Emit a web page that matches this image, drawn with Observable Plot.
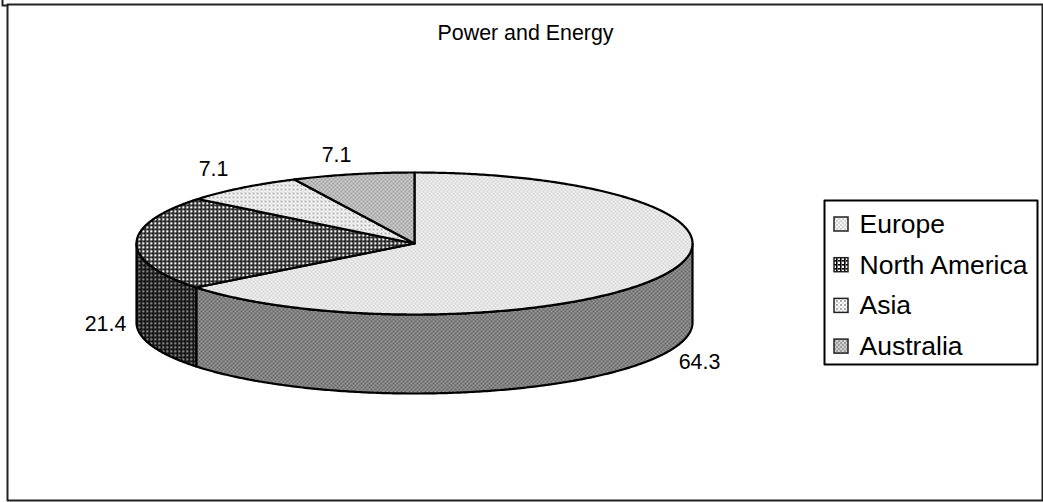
<!DOCTYPE html>
<html>
<head>
<meta charset="utf-8">
<style>html,body{margin:0;padding:0;background:#fff}svg{display:block}</style>
<script src="https://cdn.jsdelivr.net/npm/d3@7"></script>
<script src="https://cdn.jsdelivr.net/npm/@observablehq/plot@0.6"></script>
</head>
<body>
<script>
const categories = ["Europe", "North America", "Asia", "Australia"];
const values = [64.3, 21.4, 7.1, 7.1];
const valueLabels = ["64.3", "21.4", "7.1", "7.1"];
const chartTitle = "Power and Energy";

const W = 1043, H = 502;
const cx = 414, cy = 243, rx = 278, ry = 71, depth = 79;
const font = "Arial, 'Liberation Sans', sans-serif";

const total = d3.sum(values);
let acc = 0;
const slices = categories.map((name, i) => {
  const a0 = acc / total * 2 * Math.PI;
  acc += values[i];
  return {name, a0, a1: acc / total * 2 * Math.PI};
});
const rim = (a, dy = 0) => ({px: cx + rx * Math.sin(a), py: cy - ry * Math.cos(a) + dy});
const arc = (a0, a1, dy = 0) => {
  const n = Math.max(2, Math.ceil(Math.abs(a1 - a0) / 0.01));
  return d3.range(n + 1).map(k => rim(a0 + (a1 - a0) * k / n, dy));
};
const topFace = s => [{px: cx, py: cy}, ...arc(s.a0, s.a1), {px: cx, py: cy}];
const wall = (a0, a1) => {
  const pts = [...arc(a0, a1), ...arc(a1, a0, depth)];
  return [...pts, pts[0]];
};
const frontEnd = Math.PI / 2, backEnd = 3 * Math.PI / 2;
const wallEurope = wall(frontEnd, slices[0].a1);
const wallNA = wall(slices[0].a1, backEnd);

const topFills = ["url(#pEurope)", "url(#pNA)", "url(#pAsia)", "url(#pAus)"];
const shape = (pts, fill) => Plot.line(pts, {
  x: "px", y: "py", fill, stroke: "#000", strokeWidth: 2.2, curve: "linear", strokeLinejoin: "round"
});

// legend layout
const legendX = 824, legendRight = 1037, legendTop = 200, legendBottom = 364;
const legendRows = categories.map((name, i) => ({name, i, ly: 224 + i * 40.7}));

// data labels
const labelPos = [{lx: 699, ly: 362}, {lx: 105, ly: 324}, {lx: 213, ly: 169}, {lx: 336, ly: 155}]
  .map((p, i) => ({...p, t: valueLabels[i]}));

const plot = Plot.plot({
  width: W, height: H, margin: 0,
  x: {domain: [0, W], range: [0, W], axis: null},
  y: {domain: [0, H], range: [0, H], axis: null},
  style: {background: "#fff", fontFamily: font},
  marks: [
    // outer frame
    Plot.line([{px: 7, py: H - 2}, {px: 7, py: 4}, {px: W - 1, py: 4}, {px: W - 1, py: H - 2}, {px: 7, py: H - 2}],
      {x: "px", y: "py", stroke: "#222", strokeWidth: 2}),
    Plot.line([{px: 2, py: 0}, {px: 2, py: 5}, {px: 7, py: 5}], {x: "px", y: "py", stroke: "#222", strokeWidth: 2}),
    Plot.text([chartTitle], {x: () => 525, y: () => 33, text: d => d, fontSize: 21.4, fill: "#000", textAnchor: "middle"}),
    // walls
    shape(wallEurope, "url(#pEuropeSide)"),
    shape(wallNA, "url(#pNASide)"),
    // top faces
    ...slices.map((s, i) => shape(topFace(s), topFills[i])),
    // data labels
    Plot.text(labelPos, {x: "lx", y: "ly", text: "t", fontSize: 21.4, fill: "#000", textAnchor: "middle"}),
    // legend
    Plot.line([{px: legendX, py: legendTop}, {px: legendRight, py: legendTop}, {px: legendRight, py: legendBottom}, {px: legendX, py: legendBottom}, {px: legendX, py: legendTop}],
      {x: "px", y: "py", stroke: "#000", strokeWidth: 2, fill: "#fff"}),
    Plot.rect(legendRows, {
      x1: () => 834, x2: () => 848,
      y1: d => d.ly - 7, y2: d => d.ly + 7,
      fill: d => topFills[d.i], stroke: "#222", strokeWidth: 1.5
    }),
    Plot.text(legendRows, {x: () => 859, y: "ly", text: "name", fontSize: 26.5, fill: "#000", textAnchor: "start"})
  ]
});

// fill patterns used by the marks
const ns = "http://www.w3.org/2000/svg";
const defs = document.createElementNS(ns, "defs");
const pattern = (id, bg, cells) => `<pattern id="${id}" width="4" height="4" patternUnits="userSpaceOnUse" shape-rendering="crispEdges"><rect width="4" height="4" fill="${bg}"/>${cells.map(([x, y, w, h, c]) => `<rect x="${x}" y="${y}" width="${w}" height="${h}" fill="${c}"/>`).join("")}</pattern>`;
const checker = (id, a, b) => pattern(id, a, [[0, 0, 2, 2, b], [2, 2, 2, 2, b]]);
defs.innerHTML = [
  checker("pEurope", "#f2f2f2", "#d6d6d6"),
  pattern("pAsia", "#fff", [[0, 0, 2, 2, "#aaa"], [2, 2, 2, 2, "#ddd"]]),
  checker("pAus", "#a0a0a0", "#cfcfcf"),
  pattern("pNA", "#fff", [[0, 0, 4, 1, "#000"], [0, 1, 4, 1, "#666"], [0, 0, 1, 4, "#000"], [1, 0, 1, 4, "#666"]]),
  pattern("pNASide", "#888", [[0, 0, 4, 1, "#000"], [0, 1, 4, 1, "#333"], [0, 0, 1, 4, "#000"], [1, 0, 1, 4, "#333"]]),
  checker("pEuropeSide", "#666", "#9a9a9a")
].join("");
plot.insertBefore(defs, plot.firstChild);
document.body.appendChild(plot);
</script>
</body>
</html>
